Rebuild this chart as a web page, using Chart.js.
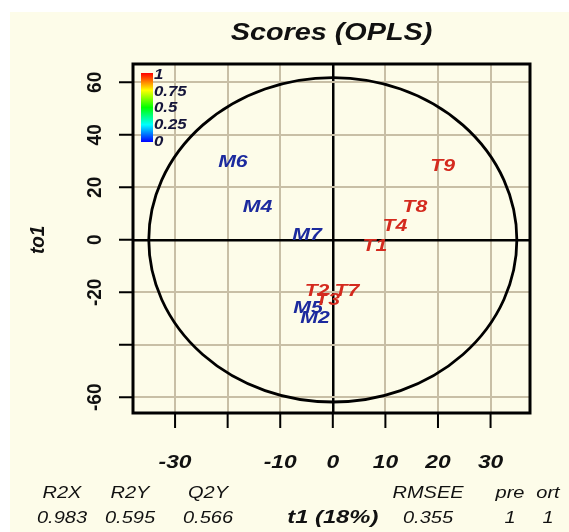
<!DOCTYPE html>
<html>
<head>
<meta charset="utf-8">
<script src="https://cdn.jsdelivr.net/npm/chart.js@4.4.1/dist/chart.umd.min.js"></script>
<style>
  html, body { margin: 0; padding: 0; background: #ffffff; }
  #wrap { position: relative; width: 569px; height: 532px; }
  canvas { display: block; }
</style>
</head>
<body>
<div id="wrap"><canvas id="c" width="569" height="532"></canvas></div>
<script>
// OPLS score plot: predictive component t1 vs orthogonal component to1
const sampleNames = ['M6', 'M4', 'M7', 'M5', 'M2', 'T9', 'T8', 'T4', 'T1', 'T7', 'T2', 'T3'];
const t1Scores   = [-19.0, -14.3, -4.9, -4.7, -3.4, 20.9, 15.6, 11.8, 8.0, 2.7, -3.0, -1.0];
const to1Scores  = [ 29.4,  12.2,  1.7, -26.0, -29.8, 27.9, 12.2, 5.0, -2.3, -19.8, -19.8, -22.9];
const groupValue = [0, 0, 0, 0, 0, 1, 1, 1, 1, 1, 1, 1];

const xTicks = [-30, -20, -10, 0, 10, 20, 30];
const xTickLabels = ['-30', '', '-10', '0', '10', '20', '30'];
const yTicks = [-60, -40, -20, 0, 20, 40, 60];
const yTickLabels = ['-60', '', '-20', '0', '20', '40', '60'];

const colorbarLabels = ['1', '0.75', '0.5', '0.25', '0'];

const statNames  = ['R2X', 'R2Y', 'Q2Y', 'RMSEE', 'pre', 'ort'];
const statValues = ['0.983', '0.595', '0.566', '0.355', '1', '1'];

// Hotelling T2 ellipse semi-axes (score units)
const ellipseT1 = 35.0;
const ellipseTo1 = 61.8;

const BG = '#fdfce9';
const GRID = '#c8bfa6';
const FAMILY = '"Liberation Sans", Arial, sans-serif';

function stretchedText(ctx, text, x, y, font, color, opts) {
  const o = opts || {};
  ctx.save();
  ctx.font = font + ' ' + FAMILY;
  ctx.fillStyle = color;
  ctx.textAlign = o.align || 'center';
  ctx.textBaseline = 'middle';
  ctx.translate(x, y);
  ctx.scale(o.sx || 1.25, 1);
  if (o.rotate) ctx.rotate(-Math.PI / 2);
  ctx.fillText(text, 0, 0);
  ctx.restore();
}

const backdrop = {
  id: 'backdrop',
  beforeDraw(chart) {
    const ctx = chart.ctx;
    ctx.save();
    ctx.fillStyle = '#ffffff';
    ctx.fillRect(0, 0, chart.width, chart.height);
    ctx.fillStyle = BG;
    ctx.fillRect(10, 12, chart.width - 10, chart.height - 12);
    ctx.restore();
  }
};

const decorations = {
  id: 'decorations',
  afterDatasetsDraw(chart) {
    const ctx = chart.ctx;
    const xs = chart.scales.x, ys = chart.scales.y;
    const a = chart.chartArea;

    // ellipse
    const cx = xs.getPixelForValue(0), cy = ys.getPixelForValue(0);
    const rx = xs.getPixelForValue(ellipseT1) - cx;
    const ry = cy - ys.getPixelForValue(ellipseTo1);
    ctx.save();
    ctx.strokeStyle = '#000';
    ctx.lineWidth = 2.8;
    ctx.beginPath();
    ctx.ellipse(cx, cy, rx, ry, 0, 0, Math.PI * 2);
    ctx.stroke();

    // box
    ctx.lineWidth = 3;
    ctx.strokeRect(a.left, a.top, a.right - a.left, a.bottom - a.top);

    // tick marks
    ctx.lineWidth = 2;
    ctx.beginPath();
    xTicks.forEach(v => {
      const px = xs.getPixelForValue(v);
      ctx.moveTo(px, a.bottom);
      ctx.lineTo(px, a.bottom + 15);
    });
    yTicks.forEach(v => {
      const py = ys.getPixelForValue(v);
      ctx.moveTo(a.left, py);
      ctx.lineTo(a.left - 14, py);
    });
    ctx.stroke();
    ctx.restore();

    // tick labels
    xTicks.forEach((v, i) => {
      if (!xTickLabels[i]) return;
      stretchedText(ctx, xTickLabels[i], xs.getPixelForValue(v), a.bottom + 50,
        'italic bold 19px', '#111', { sx: 1.2 });
    });
    yTicks.forEach((v, i) => {
      if (!yTickLabels[i]) return;
      stretchedText(ctx, yTickLabels[i], a.left - 38, ys.getPixelForValue(v),
        'bold 19px', '#111', { sx: 1.1, rotate: true });
    });

    // sample labels at their scores
    sampleNames.forEach((name, i) => {
      const px = xs.getPixelForValue(t1Scores[i]);
      const py = ys.getPixelForValue(to1Scores[i]);
      const col = groupValue[i] === 1 ? '#d42a1e' : '#1c2a9e';
      stretchedText(ctx, name, px, py, 'italic bold 17px', col, { sx: 1.25 });
    });

    // colour bar
    const bx = a.left + 8, by = a.top + 9, bw = 12, bh = 69;
    const g = ctx.createLinearGradient(0, by, 0, by + bh);
    g.addColorStop(0, '#ff0000');
    g.addColorStop(0.25, '#ffff00');
    g.addColorStop(0.5, '#00ff00');
    g.addColorStop(0.75, '#00ffff');
    g.addColorStop(1, '#0000ff');
    ctx.save();
    ctx.fillStyle = g;
    ctx.fillRect(bx, by, bw, bh);
    ctx.restore();
    colorbarLabels.forEach((lab, i) => {
      stretchedText(ctx, lab, bx + bw + 1, by + 2 + i * (bh - 2) / 4,
        'italic bold 14px', '#15153a', { align: 'left', sx: 1.2 });
    });

    // titles
    stretchedText(ctx, 'Scores (OPLS)', (a.left + a.right) / 2, 33,
      'italic bold 24px', '#111', { sx: 1.2 });
    stretchedText(ctx, 'to1', 38, ys.getPixelForValue(0),
      'italic bold 19px', '#111', { sx: 1.1, rotate: true });
    stretchedText(ctx, 't1 (18%)', xs.getPixelForValue(0), 518,
      'italic bold 19px', '#111', { sx: 1.25 });

    // model statistics
    const statX = [62, 130, 208, 428, 510, 548];
    statNames.forEach((n, i) => {
      stretchedText(ctx, n, statX[i], 494, 'italic 16px', '#111', { sx: 1.25 });
      stretchedText(ctx, statValues[i], statX[i], 519, 'italic 16px', '#111', { sx: 1.25 });
    });
  }
};

new Chart(document.getElementById('c'), {
  type: 'scatter',
  data: {
    datasets: [{
      label: 'scores',
      data: t1Scores.map((x, i) => ({ x: x, y: to1Scores[i] })),
      pointRadius: 0,
      pointHoverRadius: 0
    }]
  },
  options: {
    responsive: false,
    animation: false,
    events: [],
    layout: { padding: { left: 133, top: 64, right: 39, bottom: 119 } },
    plugins: { legend: { display: false }, tooltip: { enabled: false }, title: { display: false } },
    scales: {
      x: {
        type: 'linear', min: -38, max: 37.5,
        afterBuildTicks: s => { s.ticks = xTicks.map(v => ({ value: v })); },
        afterFit: s => { s.height = 0; },
        ticks: { display: false },
        border: { display: false },
        grid: {
          drawTicks: false,
          color: c => (c.tick && c.tick.value === 0) ? '#000' : GRID,
          lineWidth: c => (c.tick && c.tick.value === 0) ? 2.5 : 2
        }
      },
      y: {
        type: 'linear', min: -66, max: 67,
        afterBuildTicks: s => { s.ticks = yTicks.map(v => ({ value: v })); },
        afterFit: s => { s.width = 0; },
        ticks: { display: false },
        border: { display: false },
        grid: {
          drawTicks: false,
          color: c => (c.tick && c.tick.value === 0) ? '#000' : GRID,
          lineWidth: c => (c.tick && c.tick.value === 0) ? 2.5 : 2
        }
      }
    }
  },
  plugins: [backdrop, decorations]
});
</script>
</body>
</html>
